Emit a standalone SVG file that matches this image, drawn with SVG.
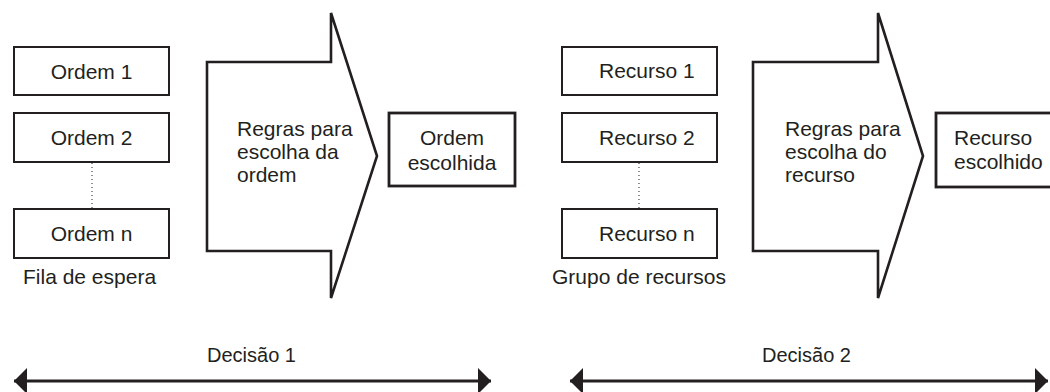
<svg xmlns="http://www.w3.org/2000/svg" width="1050" height="392" viewBox="0 0 1050 392">
  <defs>
    <style>
      text { font-family: "Liberation Sans", Arial, sans-serif; font-size: 21px; fill: #231f20; }
      .box { fill: #ffffff; stroke: #231f20; stroke-width: 2; }
      .chosen { fill: #ffffff; stroke: #231f20; stroke-width: 2.8; }
      .big { fill: #ffffff; stroke: #231f20; stroke-width: 2.6; stroke-linejoin: miter; }
      .dots { stroke: #231f20; stroke-width: 1; stroke-dasharray: 1 3; fill: none; }
      .span { stroke: #231f20; stroke-width: 3; fill: none; marker-start: url(#head); marker-end: url(#head); }
      .c { text-anchor: middle; }
      .dec { font-size: 20px; }
    </style>
    <marker id="head" viewBox="0 0 13 26" refX="13" refY="13" markerWidth="13" markerHeight="26" markerUnits="userSpaceOnUse" orient="auto-start-reverse">
      <path d="M0,0 L13,13 L0,26 Z" fill="#231f20"/>
    </marker>
  </defs>
  <rect width="1050" height="392" fill="#ffffff"/>

  <g id="ordem1"><rect class="box" x="14" y="47" width="155" height="48"/><text class="c" x="91.5" y="79">Ordem 1</text></g>
  <g id="ordem2"><rect class="box" x="14" y="113" width="155" height="49"/><text class="c" x="91.5" y="145">Ordem 2</text></g>
  <g id="ordemn"><rect class="box" x="14" y="209" width="155" height="49"/><text class="c" x="91.5" y="241">Ordem n</text></g>
  <g id="fila"><text x="23" y="284">Fila de espera</text></g>

  <g id="regras1">
    <path class="big" d="M207,62 L331,62 L331,13 L377,156 L331,298 L331,251 L207,251 Z"/>
    <text x="237" y="136">Regras para</text>
    <text x="237" y="159">escolha da</text>
    <text x="237" y="182">ordem</text>
  </g>

  <g id="ordemEscolhida">
    <rect class="chosen" x="389" y="113" width="126" height="73"/>
    <text class="c" x="452" y="145">Ordem</text>
    <text class="c" x="452" y="170">escolhida</text>
  </g>

  <g id="recurso1"><rect class="box" x="562" y="47" width="155" height="48"/><text x="599" y="78">Recurso 1</text></g>
  <g id="recurso2"><rect class="box" x="562" y="113" width="155" height="49"/><text x="599" y="145">Recurso 2</text></g>
  <g id="recurson"><rect class="box" x="562" y="209" width="155" height="49"/><text x="599" y="241">Recurso n</text></g>
  <g id="grupo"><text x="552" y="284">Grupo de recursos</text></g>

  <g id="regras2">
    <path class="big" d="M753,62 L878,62 L878,13 L923,156 L878,298 L878,251 L753,251 Z"/>
    <text x="785" y="136">Regras para</text>
    <text x="785" y="159">escolha do</text>
    <text x="785" y="182">recurso</text>
  </g>

  <g id="recursoEscolhido">
    <rect class="chosen" x="936" y="113" width="130" height="74"/>
    <text x="954" y="145">Recurso</text>
    <text x="954" y="169">escolhido</text>
  </g>

  <g id="decisao1"><text class="dec" x="207" y="362">Decisão 1</text></g>
  <g id="decisao2"><text class="dec" x="762" y="362">Decisão 2</text></g>

  <g id="connectors">
    <line class="dots" x1="92" y1="163" x2="92" y2="208"/>
    <line class="dots" x1="639" y1="163" x2="639" y2="208"/>
    <line class="span" x1="14" y1="381" x2="491" y2="381"/>
    <line class="span" x1="570" y1="381" x2="1048" y2="381"/>
  </g>
</svg>
